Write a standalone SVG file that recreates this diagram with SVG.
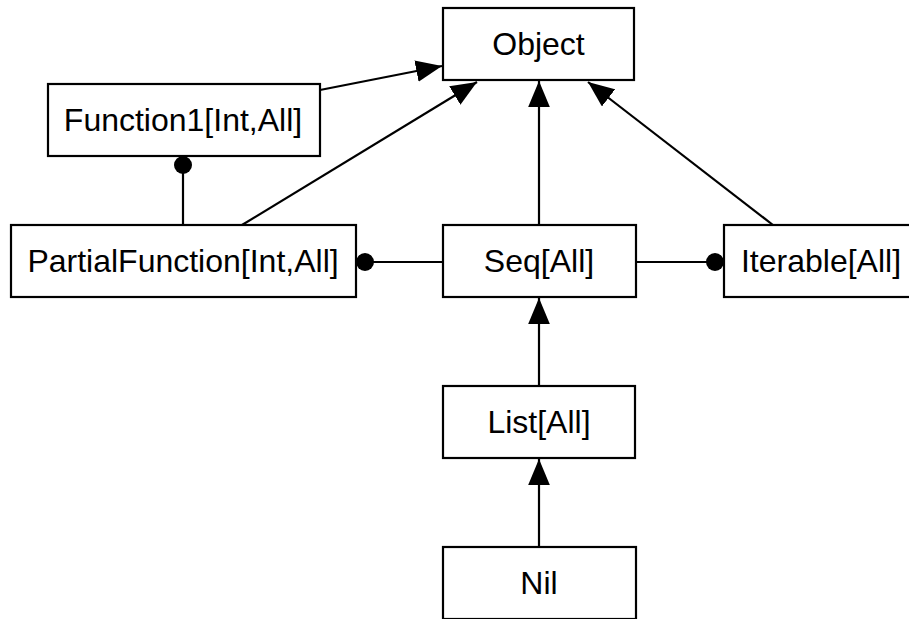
<svg xmlns="http://www.w3.org/2000/svg" width="909" height="619" viewBox="0 0 909 619">
  <style>
    .box { fill: #ffffff; stroke: #000000; stroke-width: 2.2; }
    .label { font-family: "Liberation Sans", Arial, sans-serif; font-size: 32px; fill: #000000; text-anchor: middle; }
    .edge { stroke: #000000; stroke-width: 2.2; fill: none; }
    .inherit { marker-end: url(#arrow); }
    .mixin { marker-end: url(#dot); }
  </style>
  <defs>
    <marker id="arrow" markerUnits="userSpaceOnUse" markerWidth="26" markerHeight="22" viewBox="0 0 24 20" refX="24" refY="10" orient="auto">
      <path d="M0,0 L24,10 L0,20 Z" fill="#000000"/>
    </marker>
    <marker id="dot" markerUnits="userSpaceOnUse" markerWidth="20" markerHeight="20" viewBox="0 0 20 20" refX="10" refY="10" orient="auto">
      <circle cx="10" cy="10" r="9" fill="#000000"/>
    </marker>
  </defs>

  <g id="connectors">
    <line class="edge inherit" x1="320" y1="90" x2="442" y2="66"/>
    <line class="edge inherit" x1="242" y1="225" x2="477" y2="82"/>
    <line class="edge inherit" x1="539" y1="225" x2="539" y2="81"/>
    <line class="edge inherit" x1="773" y1="225" x2="588" y2="82"/>
    <line class="edge inherit" x1="539" y1="386" x2="539" y2="298"/>
    <line class="edge inherit" x1="539" y1="547" x2="539" y2="459"/>
    <line class="edge mixin" x1="183" y1="225" x2="183" y2="165"/>
    <line class="edge mixin" x1="443" y1="262" x2="365" y2="262"/>
    <line class="edge mixin" x1="636" y1="262" x2="715" y2="262"/>
  </g>

  <g id="node-object">
    <rect class="box" x="443" y="8" width="191" height="72"/>
    <text class="label" x="538.5" y="55">Object</text>
  </g>
  <g id="node-function1">
    <rect class="box" x="48" y="84" width="272" height="72"/>
    <text class="label" x="183" y="131">Function1[Int,All]</text>
  </g>
  <g id="node-partialfunction">
    <rect class="box" x="11" y="225" width="345" height="72"/>
    <text class="label" x="183" y="272">PartialFunction[Int,All]</text>
  </g>
  <g id="node-seq">
    <rect class="box" x="443" y="225" width="193" height="72"/>
    <text class="label" x="539" y="272">Seq[All]</text>
  </g>
  <g id="node-iterable">
    <rect class="box" x="724" y="225" width="200" height="72"/>
    <text class="label" x="821" y="272">Iterable[All]</text>
  </g>
  <g id="node-list">
    <rect class="box" x="443" y="386" width="192" height="72"/>
    <text class="label" x="539" y="433">List[All]</text>
  </g>
  <g id="node-nil">
    <rect class="box" x="443" y="547" width="193" height="72"/>
    <text class="label" x="539" y="594">Nil</text>
  </g>
</svg>
